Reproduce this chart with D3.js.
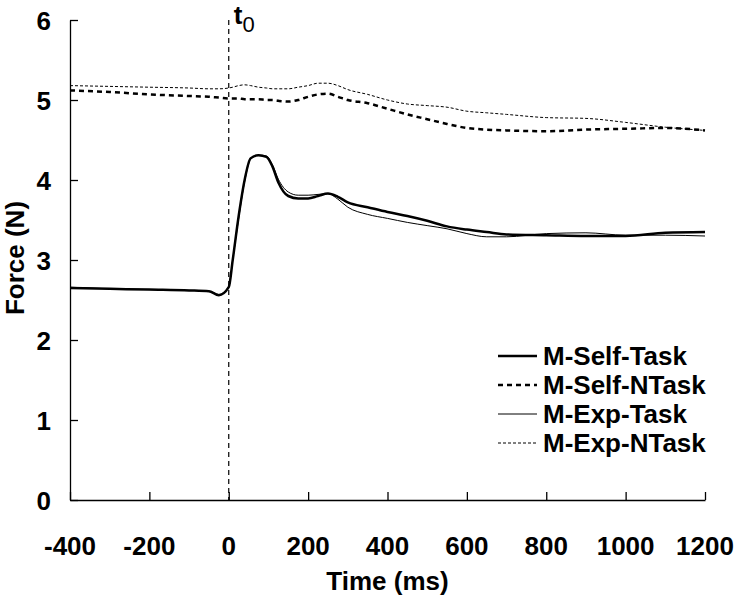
<!DOCTYPE html>
<html>
<head>
<meta charset="utf-8">
<script src="https://cdn.jsdelivr.net/npm/d3@7"></script>
<style>
  body { margin: 0; background: #fff; }
  svg text { font-family: Arial, "Liberation Sans", sans-serif; fill: #000; }
</style>
</head>
<body>
<div id="chart"></div>
<script>
// time grid (ms) shared by all series
const times = [-400, -300, -200, -100, -50, -25, 0, 10, 25, 40, 55, 75, 95, 110, 125, 150, 175, 200, 225, 250,
  275, 300, 350, 400, 450, 500, 550, 600, 650, 700, 800, 900, 1000, 1100, 1200];

const selfTask = [2.65, 2.64, 2.63, 2.62, 2.61, 2.56, 2.66, 3.0, 3.55, 4.0, 4.27, 4.31, 4.29, 4.17, 3.97, 3.80, 3.77, 3.77, 3.80, 3.83,
  3.79, 3.72, 3.66, 3.60, 3.55, 3.49, 3.42, 3.38, 3.35, 3.32, 3.31, 3.30, 3.30, 3.34, 3.35];
const selfNTask = [5.12, 5.10, 5.07, 5.05, 5.04, 5.03, 5.02, 5.02, 5.02, 5.01, 5.01, 5.01, 5.00, 5.00, 4.99, 4.98, 5.00, 5.04, 5.07, 5.08,
  5.04, 5.00, 4.96, 4.89, 4.82, 4.76, 4.70, 4.65, 4.63, 4.62, 4.61, 4.63, 4.64, 4.65, 4.62];
const expTask = [2.66, 2.64, 2.63, 2.62, 2.61, 2.57, 2.67, 3.0, 3.52, 3.98, 4.26, 4.31, 4.30, 4.19, 4.01, 3.85, 3.81, 3.81, 3.82, 3.83,
  3.76, 3.66, 3.57, 3.52, 3.47, 3.43, 3.39, 3.33, 3.29, 3.29, 3.33, 3.34, 3.31, 3.31, 3.30];
const expNTask = [5.18, 5.17, 5.16, 5.15, 5.14, 5.14, 5.15, 5.16, 5.18, 5.19, 5.18, 5.16, 5.15, 5.14, 5.14, 5.14, 5.16, 5.18, 5.21, 5.21,
  5.18, 5.13, 5.07, 5.00, 4.95, 4.93, 4.91, 4.86, 4.84, 4.82, 4.78, 4.77, 4.72, 4.66, 4.62];

const xTicks = [-400, -200, 0, 200, 400, 600, 800, 1000, 1200];
const yTicks = [0, 1, 2, 3, 4, 5, 6];

const series = [
  {name: 'M-Self-Task', values: selfTask, width: 2.5, dash: null},
  {name: 'M-Self-NTask', values: selfNTask, width: 2.5, dash: '5,4'},
  {name: 'M-Exp-Task', values: expTask, width: 1, dash: null},
  {name: 'M-Exp-NTask', values: expNTask, width: 1, dash: '3,2'}
];

const width = 737, height = 597;
const padLeft = 70, padRight = 705, padTop = 20, padBottom = 500;

const svg = d3.select('#chart').append('svg')
  .attr('width', width)
  .attr('height', height);

const x = d3.scaleLinear().domain([-400, 1200]).range([padLeft, padRight]);
const y = d3.scaleLinear().domain([0, 6]).range([padBottom, padTop]);

// axes: ticks point inward, labels drawn separately
svg.append('g')
  .attr('transform', 'translate(0,' + padBottom + ')')
  .call(d3.axisTop(x).tickValues(xTicks).tickSize(8).tickSizeOuter(0).tickFormat(''));
svg.append('g')
  .attr('transform', 'translate(' + padLeft + ',0)')
  .call(d3.axisRight(y).tickValues(yTicks).tickSize(8).tickSizeOuter(0).tickFormat(''));
svg.selectAll('.domain, .tick line').attr('stroke', '#000').attr('stroke-width', 1.3);

svg.selectAll('.xlab')
  .data(xTicks)
  .enter().append('text')
  .attr('x', d => x(d))
  .attr('y', 555)
  .attr('text-anchor', 'middle')
  .attr('font-size', 26)
  .attr('font-weight', 'bold')
  .text(d => d);

svg.selectAll('.ylab')
  .data(yTicks)
  .enter().append('text')
  .attr('x', 51)
  .attr('y', d => y(d) + 10)
  .attr('text-anchor', 'end')
  .attr('font-size', 26)
  .attr('font-weight', 'bold')
  .text(d => d);

svg.append('text')
  .attr('x', (padLeft + padRight) / 2)
  .attr('y', 590)
  .attr('text-anchor', 'middle')
  .attr('font-size', 26)
  .attr('font-weight', 'bold')
  .text('Time (ms)');

svg.append('text')
  .attr('transform', 'translate(24,' + 258 + ') rotate(-90)')
  .attr('text-anchor', 'middle')
  .attr('font-size', 26)
  .attr('font-weight', 'bold')
  .text('Force (N)');

// t0 marker
svg.append('line')
  .attr('x1', x(0)).attr('x2', x(0))
  .attr('y1', padTop).attr('y2', padBottom)
  .attr('stroke', '#000')
  .attr('stroke-width', 1.2)
  .attr('stroke-dasharray', '5,4');

const t0 = svg.append('text')
  .attr('x', x(0) + 5)
  .attr('y', 24)
  .attr('font-size', 26)
  .attr('font-weight', 'bold');
t0.append('tspan').text('t');
t0.append('tspan')
  .attr('dy', 8)
  .attr('font-size', 22)
  .attr('font-weight', 'normal')
  .text('0');

// lines
const line = d3.line()
  .x(d => x(d[0]))
  .y(d => y(d[1]))
  .curve(d3.curveMonotoneX);

series.forEach(function (s) {
  svg.append('path')
    .datum(times.map((t, i) => [t, s.values[i]]))
    .attr('d', line)
    .attr('fill', 'none')
    .attr('stroke', '#000')
    .attr('stroke-width', s.width)
    .attr('stroke-dasharray', s.dash);
});

// legend
const legend = svg.append('g');
const rowY = [356, 385, 414, 443];
series.forEach(function (s, i) {
  legend.append('line')
    .attr('x1', 498).attr('x2', 537)
    .attr('y1', rowY[i]).attr('y2', rowY[i])
    .attr('stroke', '#000')
    .attr('stroke-width', s.width)
    .attr('stroke-dasharray', s.dash);
  legend.append('text')
    .attr('x', 543)
    .attr('y', rowY[i] + 9)
    .attr('font-size', 26)
    .attr('font-weight', 'bold')
    .text(s.name);
});
</script>
</body>
</html>
